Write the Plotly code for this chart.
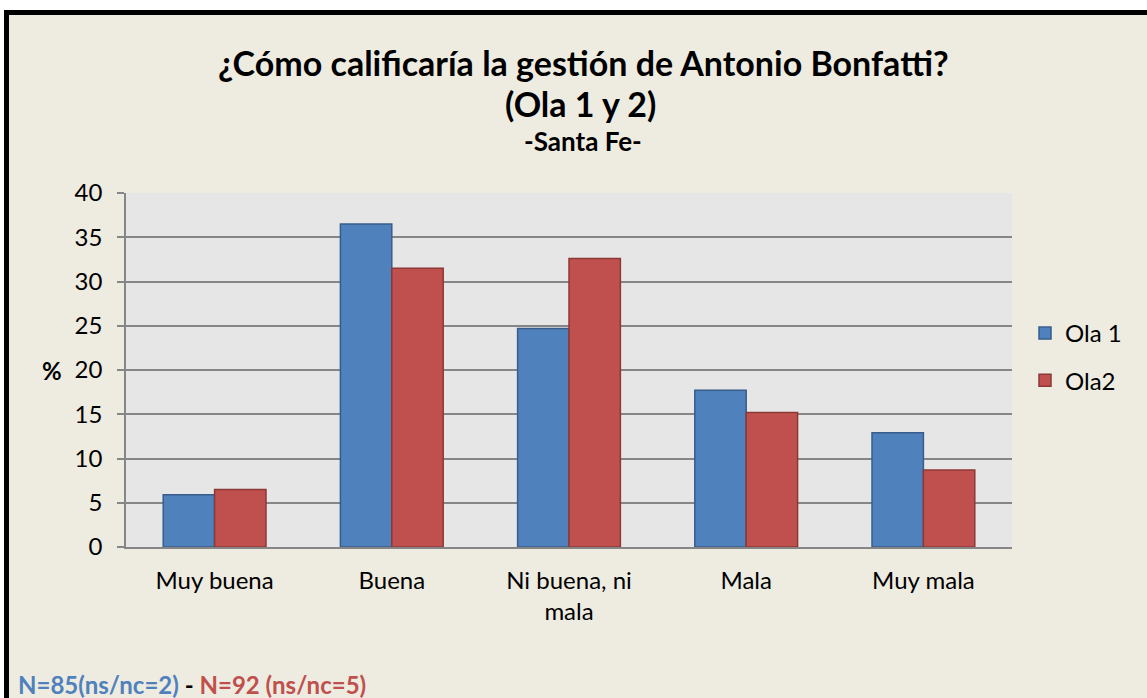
import plotly.graph_objects as go

categories = ["Muy buena", "Buena", "Ni buena, ni<br>mala", "Mala", "Muy mala"]
ola1 = [5.9, 36.5, 24.7, 17.7, 12.9]
ola2 = [6.5, 31.5, 32.6, 15.2, 8.7]
series_names = ["Ola 1", "Ola2"]
y_ticks = [0, 5, 10, 15, 20, 25, 30, 35, 40]

W, H = 1147, 698
L, R, T, B = 126, 1012, 193, 547
FONT = "Lato"

fig = go.Figure()
fig.add_trace(go.Bar(x=categories, y=ola1, name=series_names[0], legendgroup="a",
                     marker=dict(color="#4F81BD", line=dict(color="#385D8A", width=1.5))))
fig.add_trace(go.Bar(x=categories, y=ola2, name=series_names[1], legendgroup="b",
                     marker=dict(color="#C0504D", line=dict(color="#8C3836", width=1.5))))

def px(x):
    return (x - L) / (R - L)

def py(y):
    return (B - y) / (B - T)

fig.update_layout(
    width=W, height=H,
    margin=dict(l=L, r=W - R, t=T, b=H - B, autoexpand=False),
    paper_bgcolor="#EEEBE0",
    plot_bgcolor="#E6E6E6",
    barmode="group",
    bargap=0.42,
    bargroupgap=0,
    font=dict(family=FONT, color="#000000", size=24),
    showlegend=True,
    legend=dict(x=px(1025), y=py(311), xanchor="left", yanchor="top",
                font=dict(size=24, family=FONT), tracegroupgap=13,
                bgcolor="rgba(0,0,0,0)", itemwidth=30),
    xaxis=dict(showgrid=False, ticks="", showline=True, linecolor="#868686", linewidth=1.5,
               tickfont=dict(size=24, family=FONT), ticklabelstandoff=11),
    yaxis=dict(range=[0, 40], tickvals=y_ticks, showgrid=True, gridcolor="#868686", gridwidth=1.5,
               showline=True, linecolor="#868686", linewidth=1.5, ticks="outside", ticklen=7,
               tickcolor="#868686", tickwidth=1.5, tickfont=dict(size=24, family=FONT),
               ticklabelstandoff=10, zeroline=False),
)

annotations = [
    dict(text="<b>¿Cómo calificaría la gestión de Antonio Bonfatti?</b>", x=px(583), y=py(62),
         font=dict(size=34, family=FONT)),
    dict(text="<b>(Ola 1 y 2)</b>", x=px(580), y=py(103), font=dict(size=34, family=FONT)),
    dict(text="<b>-Santa Fe-</b>", x=px(583), y=py(141), font=dict(size=26, family=FONT)),
    dict(text="<b>%</b>", x=px(52), y=py(370), font=dict(size=24, family=FONT)),
    dict(text="<b><span style='color:#4F81BD'>N=85(ns/nc=2)</span> - "
              "<span style='color:#C0504D'>N=92 (ns/nc=5)</span></b>",
         x=px(16), y=py(684), xanchor="left", font=dict(size=24, family=FONT)),
]
for a in annotations:
    a.setdefault("xanchor", "center")
    fig.add_annotation(xref="paper", yref="paper", showarrow=False, yanchor="middle", **a)

# white page strip outside the frame
fig.add_shape(type="rect", xref="paper", yref="paper", x0=px(0), x1=px(W), y0=py(0), y1=py(10),
              line=dict(width=0), fillcolor="#FFFFFF", layer="below")
fig.add_shape(type="rect", xref="paper", yref="paper", x0=px(0), x1=px(4), y0=py(0), y1=py(H),
              line=dict(width=0), fillcolor="#FFFFFF", layer="below")
# outer frame (top and left edges)
fig.add_shape(type="line", xref="paper", yref="paper", x0=px(4), x1=px(W), y0=py(12.5), y1=py(12.5),
              line=dict(color="#000000", width=5))
fig.add_shape(type="line", xref="paper", yref="paper", x0=px(6.5), x1=px(6.5), y0=py(10), y1=py(H),
              line=dict(color="#000000", width=5))

fig.write_html("out.html", config={"displayModeBar": False},
               post_script="document.body.style.margin='0';")
